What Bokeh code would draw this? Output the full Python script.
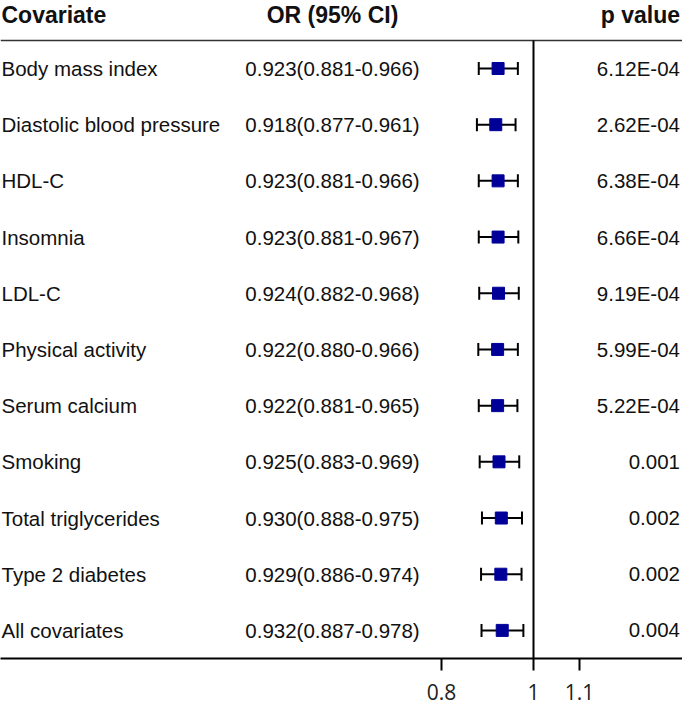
import numpy as np
from bokeh.plotting import figure
from bokeh.models import ColumnDataSource, Range1d, FixedTicker
from bokeh.core.properties import value
from bokeh.embed import file_html
from bokeh.resources import INLINE

covariates = ["Body mass index", "Diastolic blood pressure", "HDL-C", "Insomnia", "LDL-C",
              "Physical activity", "Serum calcium", "Smoking", "Total triglycerides",
              "Type 2 diabetes", "All covariates"]
or_est = [0.923, 0.918, 0.923, 0.923, 0.924, 0.922, 0.922, 0.925, 0.930, 0.929, 0.932]
ci_low = [0.881, 0.877, 0.881, 0.881, 0.882, 0.880, 0.881, 0.883, 0.888, 0.886, 0.887]
ci_high = [0.966, 0.961, 0.966, 0.967, 0.968, 0.966, 0.965, 0.969, 0.975, 0.974, 0.978]
p_values = ["6.12E-04", "2.62E-04", "6.38E-04", "6.66E-04", "9.19E-04", "5.99E-04",
            "5.22E-04", "0.001", "0.002", "0.002", "0.004"]
headers = ["Covariate", "OR (95% CI)", "p value"]
tick_values = [0.8, 1.0, 1.1]
tick_labels = ["0.8", "1", "1.1"]
null_value = 1.0

n = len(covariates)
rows = list(range(n))
or_text = [f"{o:.3f}({l:.3f}-{h:.3f})" for o, l, h in zip(or_est, ci_low, ci_high)]

# layout (pixels, canvas coordinates)
W, H = 682, 705
OX = 4                      # horizontal shift of the canvas relative to the reference
PX_PER_UNIT = 460.0
NULL_X = 537 - OX
x_start = null_value - NULL_X / PX_PER_UNIT
x_end = x_start + W / PX_PER_UNIT

ROW_PX = 56.2
FIRST_ROW_Y = 68.0
HEADER_Y = 15.0
y_top = -FIRST_ROW_Y / ROW_PX
frame_bottom = FIRST_ROW_Y + (n - 0.5) * ROW_PX
header_y = -(FIRST_ROW_Y - HEADER_Y) / ROW_PX

COL1_X = 5 - OX
COL2_X = 336 - OX
COL3_X = 683.5 - OX

p = figure(width=W, height=H, output_backend="svg", toolbar_location=None,
           x_range=Range1d(x_start, x_end), y_range=Range1d(n - 0.5, y_top),
           y_axis_location=None, min_border_left=0, min_border_right=0,
           min_border_top=0, min_border_bottom=int(round(H - frame_bottom)))
p.extra_x_ranges = {"px": Range1d(0, W)}
p.xgrid.visible = False
p.ygrid.visible = False
p.outline_line_color = None
p.background_fill_color = "white"
p.border_fill_color = "white"

src = ColumnDataSource(dict(y=rows, cov=covariates, ortxt=or_text, pv=p_values,
                            est=or_est, lo=ci_low, hi=ci_high))

FONT = value("Liberation Sans")
FS = "20.5px"
HFS = "23px"

# header
for hx, htxt, halign in zip([COL1_X, COL2_X, COL3_X], headers, ["left", "center", "right"]):
    p.text(x=[hx], y=[header_y], text=[htxt], x_range_name="px", text_font=FONT,
           text_font_size=HFS, text_font_style="bold", text_baseline="middle",
           text_align=halign, text_color="#111111")

# header separator line
p.segment(x0=[0], x1=[W], y0=[-0.5], y1=[-0.5], x_range_name="px",
          line_color="#333333", line_width=1.5)

# columns
p.text(x=COL1_X, y="y", text="cov", source=src, x_range_name="px", text_font=FONT,
       text_font_size=FS, text_baseline="middle", text_align="left", text_color="#111111")
p.text(x=COL2_X, y="y", text="ortxt", source=src, x_range_name="px", text_font=FONT,
       text_font_size=FS, text_baseline="middle", text_align="center", text_color="#111111")
p.text(x=COL3_X, y="y", text="pv", source=src, x_range_name="px", text_font=FONT,
       text_font_size=FS, text_baseline="middle", text_align="right", text_color="#111111")

# null line
p.segment(x0=[null_value], x1=[null_value], y0=[-0.5], y1=[n - 0.5],
          line_color="black", line_width=2)

# CI whiskers
p.segment(x0="lo", x1="hi", y0="y", y1="y", source=src, line_color="black", line_width=2)
p.scatter(x="lo", y="y", source=src, marker="dash", angle=np.pi / 2, size=13,
          line_color="black", line_width=2)
p.scatter(x="hi", y="y", source=src, marker="dash", angle=np.pi / 2, size=13,
          line_color="black", line_width=2)
p.scatter(x="est", y="y", source=src, marker="square", size=12,
          fill_color="#000099", line_color="#000099")

# axis
ax = p.xaxis[0]
ax.ticker = FixedTicker(ticks=tick_values)
ax.major_label_overrides = {t: l for t, l in zip(tick_values, tick_labels)}
ax.minor_tick_line_color = None
ax.major_tick_out = 12
ax.major_tick_in = 0
ax.major_tick_line_width = 2
ax.major_tick_line_color = "black"
ax.axis_line_width = 2
ax.axis_line_color = "black"
ax.major_label_text_font = "Open Sans"
ax.major_label_text_font_size = "21px"
ax.major_label_text_color = "#222222"
ax.major_label_standoff = 13

open("out.html", "w").write(file_html(p, INLINE))
